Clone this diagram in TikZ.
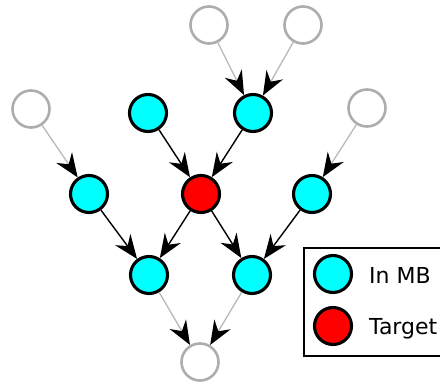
\documentclass[tikz,border=0pt]{standalone}
\usepackage{fontspec}
\setmainfont{DejaVu Sans}
\usetikzlibrary{arrows.meta}
\definecolor{mbcyan}{RGB}{0,255,255}
\definecolor{tgtred}{RGB}{255,0,0}

\begin{document}
\begin{tikzpicture}[x=1pt,y=-1pt]

	\tikzstyle var nodes=[circle, minimum size=37pt, inner sep=0pt, line width=3.1pt];
	\tikzstyle mb nodes=[var nodes, draw=black, fill=mbcyan];
	\tikzstyle target nodes=[var nodes, draw=black, fill=tgtred];
	\tikzstyle outer nodes=[var nodes, draw=black!32, line width=2.6pt];
	\tikzstyle mb lines=[line width=1.4pt, -{Stealth[length=24pt,width=19pt,inset=8pt]}];
	\tikzstyle outer lines=[line width=1.3pt, black!28, -{Stealth[length=24pt,width=19pt,inset=8pt,color=black]}];

	\useasboundingbox (0,0) rectangle (440,383);
	\clip (0,0) rectangle (440,383);

	% variables
	\foreach \name/\x/\y in {tl/209/25,tr/303/25,ol/31/109,or/367/108,bot/200/362}
		\node[outer nodes] (\name) at (\x,\y) {};
	\foreach \name/\x/\y in {pa/148/113,pb/253/113,sl/89/194,sr/312/194,ca/149/275,cb/252/275}
		\node[mb nodes] (\name) at (\x,\y) {};
	\node[target nodes] (tgt) at (201,194) {};

	% edges
	\foreach \a/\b in {tl/pb,tr/pb,ol/sl,or/sr,ca/bot,cb/bot}
		\draw[outer lines] (\a) -- (\b);
	\foreach \a/\b in {pa/tgt,pb/tgt,sl/ca,tgt/ca,tgt/cb,sr/cb}
		\draw[mb lines] (\a) -- (\b);

	% legend
	\draw[line width=1.3pt] (304,248) rectangle (470,356);
	\node[mb nodes] (keymb) at (333,274) {};
	\node[target nodes] (keytgt) at (333,326) {};
	\node[anchor=base west, inner sep=0pt, font=\fontsize{22}{26}\selectfont] (lblmb) at (369,283) {In MB};
	\node[anchor=base west, inner sep=0pt, font=\fontsize{22}{26}\selectfont] (lbltgt) at (369,334) {Target};

\end{tikzpicture}
\end{document}
